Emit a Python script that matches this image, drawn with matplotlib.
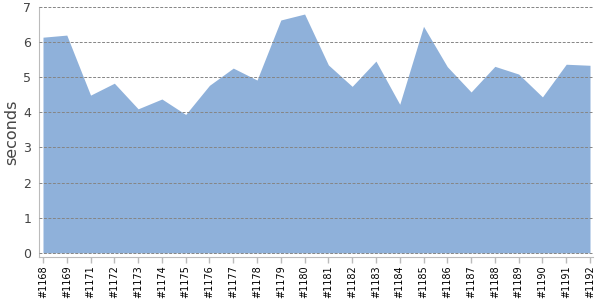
import matplotlib
matplotlib.use("Agg")
import matplotlib.pyplot as plt
import numpy as np

builds = ["#1168", "#1169", "#1171", "#1172", "#1173", "#1174", "#1175", "#1176",
          "#1177", "#1178", "#1179", "#1180", "#1181", "#1182", "#1183", "#1184",
          "#1185", "#1186", "#1187", "#1188", "#1189", "#1190", "#1191", "#1192"]
seconds = [6.14, 6.20, 4.49, 4.83, 4.10, 4.38, 3.94, 4.77,
           5.26, 4.92, 6.63, 6.80, 5.35, 4.74, 5.46, 4.23,
           6.45, 5.30, 4.58, 5.31, 5.09, 4.44, 5.37, 5.34]
yticks = [0, 1, 2, 3, 4, 5, 6, 7]

fig = plt.figure(figsize=(6, 3), dpi=100)
ax = fig.add_axes([39.5 / 600, 1 - 257 / 300, 553.5 / 600, 250 / 300])

x = np.arange(len(builds))
ax.fill_between(x, 0, seconds, color="#8FB1DA", linewidth=0, zorder=1)

ax.set_xlim(-0.147, len(builds) - 1 + 0.126)
ax.set_ylim(-0.12, 7)
ax.set_yticks(yticks)
ax.set_yticklabels([str(v) for v in yticks], color="#444444", fontsize=9)
ax.set_xticks(x)
ax.set_xticklabels(builds, rotation=90, fontsize=7, color="black")

ax.grid(axis="y", color="#858585", linestyle=(0, (3, 1.6)), linewidth=0.7, zorder=2)
ax.set_axisbelow(False)
ax.tick_params(axis="y", length=0, pad=6)
ax.tick_params(axis="x", length=4, color="#BBBBBB", width=1, pad=2)

for s in ["top", "right"]:
    ax.spines[s].set_visible(False)
ax.spines["left"].set_color("#BBBBBB")
ax.spines["bottom"].set_color("#BBBBBB")

ax.set_ylabel("seconds", fontsize=11.5, color="#444444", labelpad=3)

fig.savefig("out.png", dpi=100)
